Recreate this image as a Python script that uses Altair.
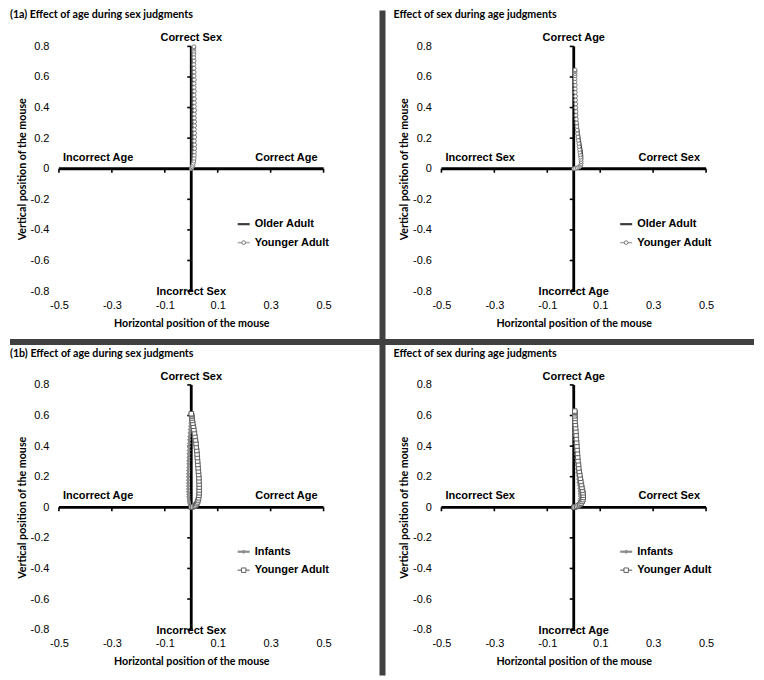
import altair as alt
import pandas as pd

# ---------------- data ----------------
X_TICKS = [-0.5, -0.3, -0.1, 0.1, 0.3, 0.5]
Y_TICKS = [-0.8, -0.6, -0.4, -0.2, 0.0, 0.2, 0.4, 0.6, 0.8]
X_TITLE = "Horizontal position of the mouse"
Y_TITLE = "Vertical position of the mouse"

PANEL_TITLES = [
    "(1a) Effect of age during sex judgments",
    "Effect of sex during age judgments",
    "(1b) Effect of age during sex judgments",
    "Effect of sex during age judgments",
]
# quadrant labels: top, bottom, left, right
QUAD_SEX_TASK = ["Correct Sex", "Incorrect Sex", "Incorrect Age", "Correct Age"]
QUAD_AGE_TASK = ["Correct Age", "Incorrect Age", "Incorrect Sex", "Correct Sex"]

SERIES_ADULT = ["Older Adult", "Younger Adult"]
SERIES_INFANT = ["Infants", "Younger Adult"]

# (x, y) mouse trajectories
p1_older = [(0.000, 0.000), (0.001, 0.010), (0.002, 0.030), (0.003, 0.060), (0.003, 0.100),
            (0.004, 0.140), (0.004, 0.180), (0.004, 0.220), (0.004, 0.260), (0.004, 0.300),
            (0.004, 0.340), (0.004, 0.380), (0.004, 0.420), (0.004, 0.460), (0.004, 0.500),
            (0.004, 0.540), (0.004, 0.580), (0.003, 0.620), (0.003, 0.660), (0.003, 0.700),
            (0.003, 0.740), (0.003, 0.770), (0.003, 0.790)]
p1_younger = [(0.000, 0.000), (0.002, 0.005), (0.004, 0.012), (0.006, 0.022), (0.008, 0.035),
              (0.010, 0.050), (0.011, 0.068), (0.012, 0.088), (0.012, 0.110), (0.013, 0.133),
              (0.013, 0.157), (0.012, 0.182), (0.013, 0.207), (0.013, 0.232), (0.012, 0.257),
              (0.013, 0.282), (0.013, 0.307), (0.012, 0.332), (0.012, 0.357), (0.013, 0.382),
              (0.012, 0.407), (0.012, 0.432), (0.012, 0.457), (0.011, 0.482), (0.012, 0.507),
              (0.011, 0.532), (0.011, 0.557), (0.012, 0.582), (0.011, 0.607), (0.011, 0.632),
              (0.011, 0.657), (0.010, 0.682), (0.011, 0.705), (0.010, 0.728), (0.010, 0.750),
              (0.010, 0.768), (0.010, 0.782), (0.010, 0.792), (0.010, 0.798)]
p2_older = [(0.000, 0.000), (0.005, 0.003), (0.011, 0.007), (0.017, 0.012), (0.022, 0.019),
            (0.026, 0.028), (0.029, 0.039), (0.031, 0.052), (0.032, 0.066), (0.032, 0.082),
            (0.031, 0.099), (0.030, 0.117), (0.028, 0.136), (0.026, 0.156), (0.024, 0.177),
            (0.022, 0.199), (0.020, 0.222), (0.018, 0.245), (0.016, 0.269), (0.014, 0.293),
            (0.012, 0.318), (0.011, 0.343), (0.010, 0.368), (0.009, 0.393), (0.008, 0.418),
            (0.007, 0.443), (0.006, 0.468), (0.006, 0.492), (0.005, 0.515), (0.005, 0.537),
            (0.005, 0.557), (0.004, 0.575), (0.004, 0.590), (0.004, 0.602), (0.004, 0.611),
            (0.004, 0.617)]
p2_younger = [(0.000, 0.000), (0.006, 0.003), (0.013, 0.006), (0.019, 0.010), (0.024, 0.016),
              (0.027, 0.024), (0.028, 0.034), (0.028, 0.046), (0.027, 0.060), (0.026, 0.075),
              (0.025, 0.091), (0.023, 0.108), (0.022, 0.126), (0.020, 0.145), (0.019, 0.165),
              (0.017, 0.186), (0.016, 0.208), (0.014, 0.230), (0.013, 0.253), (0.012, 0.276),
              (0.011, 0.300), (0.010, 0.324), (0.009, 0.349), (0.009, 0.374), (0.008, 0.399),
              (0.008, 0.424), (0.007, 0.449), (0.007, 0.474), (0.006, 0.499), (0.006, 0.523),
              (0.006, 0.546), (0.005, 0.568), (0.005, 0.589), (0.005, 0.607), (0.005, 0.622),
              (0.005, 0.634), (0.005, 0.642), (0.005, 0.647)]
p3_infants = [(0.000, 0.000), (-0.002, 0.004), (-0.004, 0.010), (-0.006, 0.018), (-0.008, 0.028),
              (-0.009, 0.040), (-0.010, 0.054), (-0.011, 0.069), (-0.011, 0.085), (-0.012, 0.102),
              (-0.012, 0.120), (-0.012, 0.139), (-0.012, 0.158), (-0.012, 0.178), (-0.012, 0.198),
              (-0.012, 0.219), (-0.012, 0.240), (-0.011, 0.261), (-0.011, 0.283), (-0.011, 0.305),
              (-0.010, 0.327), (-0.010, 0.349), (-0.009, 0.372), (-0.009, 0.395), (-0.008, 0.418),
              (-0.008, 0.441), (-0.007, 0.464), (-0.006, 0.487), (-0.005, 0.509), (-0.004, 0.530),
              (-0.003, 0.550), (-0.002, 0.568), (-0.001, 0.584), (-0.001, 0.597), (0.000, 0.606),
              (0.000, 0.612)]
p3_younger = [(0.000, 0.000), (0.006, 0.003), (0.012, 0.008), (0.017, 0.015), (0.021, 0.024),
              (0.024, 0.035), (0.026, 0.048), (0.028, 0.062), (0.029, 0.078), (0.030, 0.095),
              (0.030, 0.113), (0.030, 0.132), (0.030, 0.152), (0.029, 0.172), (0.029, 0.193),
              (0.028, 0.214), (0.027, 0.236), (0.026, 0.258), (0.025, 0.280), (0.024, 0.302),
              (0.023, 0.325), (0.022, 0.348), (0.021, 0.371), (0.019, 0.394), (0.018, 0.417),
              (0.016, 0.440), (0.014, 0.463), (0.012, 0.486), (0.010, 0.508), (0.008, 0.530),
              (0.006, 0.550), (0.004, 0.568), (0.003, 0.584), (0.002, 0.597), (0.001, 0.606),
              (0.000, 0.612)]
p4_infants = [(0.000, 0.000), (0.004, 0.003), (0.009, 0.008), (0.014, 0.014), (0.018, 0.022),
              (0.021, 0.032), (0.023, 0.044), (0.024, 0.058), (0.024, 0.073), (0.023, 0.089),
              (0.022, 0.106), (0.021, 0.124), (0.020, 0.143), (0.018, 0.163), (0.017, 0.184),
              (0.016, 0.206), (0.014, 0.228), (0.013, 0.251), (0.012, 0.274), (0.011, 0.298),
              (0.010, 0.322), (0.009, 0.346), (0.008, 0.370), (0.007, 0.394), (0.006, 0.418),
              (0.006, 0.442), (0.005, 0.466), (0.004, 0.490), (0.004, 0.513), (0.003, 0.535),
              (0.003, 0.555), (0.002, 0.573), (0.002, 0.588), (0.002, 0.600), (0.002, 0.609),
              (0.002, 0.615)]
p4_younger = [(0.000, 0.000), (0.005, 0.002), (0.011, 0.006), (0.017, 0.011), (0.023, 0.018),
              (0.028, 0.027), (0.032, 0.038), (0.035, 0.050), (0.036, 0.064), (0.036, 0.079),
              (0.035, 0.095), (0.033, 0.112), (0.031, 0.130), (0.029, 0.149), (0.027, 0.169),
              (0.025, 0.190), (0.023, 0.212), (0.021, 0.234), (0.019, 0.257), (0.018, 0.280),
              (0.016, 0.304), (0.015, 0.328), (0.014, 0.352), (0.013, 0.376), (0.012, 0.400),
              (0.011, 0.424), (0.010, 0.448), (0.009, 0.472), (0.008, 0.496), (0.007, 0.519),
              (0.006, 0.541), (0.005, 0.562), (0.005, 0.581), (0.004, 0.598), (0.004, 0.612),
              (0.004, 0.622), (0.004, 0.629)]

# ---------------- styling ----------------
W, H = 265, 245
LABEL_FONT = "Liberation Sans"
TITLE_FONT = "Lato"
SEP_COLOR = "#404040"

STYLE_OLDER = dict(line="#3c3c3c", width=2.2, shape=None)
STYLE_YOUNG_C = dict(line="#a8a8a8", width=1.2, shape="circle", size=14, fill="white", stroke="#7a7a7a")
STYLE_INFANT = dict(line="#8c8c8c", width=2.2, shape="diamond", size=12, fill="#8c8c8c", stroke="#8c8c8c")
STYLE_YOUNG_S = dict(line="#8a8a8a", width=1.2, shape="square", size=20, fill="white", stroke="#5e5e5e")

xs = alt.Scale(domain=[-0.5, 0.5], nice=False, zero=False)
ys = alt.Scale(domain=[-0.8, 0.8], nice=False, zero=False)
MINUS_FIX = "replace(datum.label, '\u2212', '-')"

x_axis = alt.Axis(values=X_TICKS, format=".1f", labelExpr=MINUS_FIX, title=X_TITLE,
                  domain=False, ticks=False, grid=False, labelFont=LABEL_FONT, labelFontSize=11,
                  labelColor="black", labelPadding=8, labelFlush=False, labelOverlap=False,
                  titleFont=TITLE_FONT, titleFontSize=10.7, titleFontWeight="bold",
                  titleColor="black", titlePadding=8)
y_axis = alt.Axis(values=Y_TICKS, format=".1~f", labelExpr=MINUS_FIX, title=Y_TITLE,
                  domain=False, ticks=False, grid=False, labelFont=LABEL_FONT, labelFontSize=11,
                  labelColor="black", labelPadding=10, labelFlush=False, labelOverlap=False,
                  titleFont=TITLE_FONT, titleFontSize=10.7, titleFontWeight="bold",
                  titleColor="black", titlePadding=3)


def X(field="x"):
    return alt.X(f"{field}:Q", scale=xs, axis=x_axis)


def Y(field="y"):
    return alt.Y(f"{field}:Q", scale=ys, axis=y_axis)


def series_layers(points, style):
    df = pd.DataFrame(points, columns=["x", "y"])
    df["i"] = range(len(df))
    base = alt.Chart(df)
    layers = [base.mark_line(color=style["line"], strokeWidth=style["width"]).encode(
        x=X(), y=Y(), order="i:Q")]
    if style["shape"]:
        layers.append(base.mark_point(shape=style["shape"], size=style["size"], filled=True,
                                      fill=style["fill"], stroke=style["stroke"],
                                      strokeWidth=1, opacity=1).encode(x=X(), y=Y()))
    return layers


def legend_layers(names, styles, x0, y0):
    layers = []
    for k, (name, st) in enumerate(zip(names, styles)):
        yy = y0 + 18.5 * k
        d = pd.DataFrame({"label": [name]})
        b = alt.Chart(d)
        layers.append(b.mark_rule(color=st["line"], strokeWidth=max(st["width"], 1.5)).encode(
            x=alt.value(x0), x2=alt.value(x0 + 12), y=alt.value(yy)))
        if st["shape"]:
            layers.append(b.mark_point(shape=st["shape"], size=st["size"], filled=True,
                                       fill=st["fill"], stroke=st["stroke"], strokeWidth=1,
                                       opacity=1).encode(x=alt.value(x0 + 6), y=alt.value(yy)))
        layers.append(b.mark_text(align="left", baseline="middle", font=LABEL_FONT,
                                  fontSize=11, fontWeight="bold", color="black").encode(
            x=alt.value(x0 + 17), y=alt.value(yy), text="label:N"))
    return layers


def panel(title, title_dx, quad, series_pts, names, styles, legend_y, separators=False):
    axes_df = pd.DataFrame({"x": [0.0, -0.5], "y": [-0.8, 0.0], "x2": [0.0, 0.5], "y2": [0.8, 0.0]})
    layers = [
        alt.Chart(axes_df).mark_rule(color="black", strokeWidth=2.8).encode(
            x=X(), y=Y(), x2="x2:Q", y2="y2:Q"),
        alt.Chart(pd.DataFrame({"y": Y_TICKS, "x": 0.0})).mark_rule(
            color="black", strokeWidth=1.6, xOffset=-4).encode(x=X(), x2="x:Q", y=Y()),
        alt.Chart(pd.DataFrame({"x": X_TICKS, "y": 0.0})).mark_rule(
            color="black", strokeWidth=1.6, y2Offset=4).encode(x=X(), y=Y(), y2="y:Q"),
    ]
    for pts, st in zip(series_pts, styles):
        layers += series_layers(pts, st)

    # quadrant labels: (x, y, align, dx, dy)
    spots = [(0.0, 0.8, "center", 0, -8), (0.0, -0.8, "center", 0, 1),
             (-0.5, 0.0, "left", 4, -11), (0.5, 0.0, "right", -6, -11)]
    for text, (qx, qy, al, dx, dy) in zip(quad, spots):
        d = pd.DataFrame({"x": [qx], "y": [qy], "t": [text]})
        layers.append(alt.Chart(d).mark_text(align=al, baseline="middle", dx=dx, dy=dy,
                                             font=LABEL_FONT, fontSize=11, fontWeight="bold",
                                             color="black").encode(x=X(), y=Y(), text="t:N"))

    layers += legend_layers(names, styles, 179, legend_y)

    td = pd.DataFrame({"t": [title]})
    layers.append(alt.Chart(td).mark_text(align="left", baseline="middle", font=TITLE_FONT,
                                          fontSize=10.7, fontWeight="bold", color="black").encode(
        x=alt.value(title_dx), y=alt.value(-31), text="t:N"))

    if separators:
        sd = pd.DataFrame({"k": [0]})
        layers.append(alt.Chart(sd).mark_rule(color=SEP_COLOR, strokeWidth=6, strokeCap="square").encode(
            x=alt.value(324), y=alt.value(-33), y2=alt.value(627)))
        layers.append(alt.Chart(sd).mark_rule(color=SEP_COLOR, strokeWidth=6, strokeCap="square").encode(
            x=alt.value(-46), x2=alt.value(693), y=alt.value(296)))

    return alt.layer(*layers).properties(width=W, height=H)


p1 = panel(PANEL_TITLES[0], -49, QUAD_SEX_TASK, [p1_older, p1_younger], SERIES_ADULT,
           [STYLE_OLDER, STYLE_YOUNG_C], 178, separators=True)
p2 = panel(PANEL_TITLES[1], -48, QUAD_AGE_TASK, [p2_older, p2_younger], SERIES_ADULT,
           [STYLE_OLDER, STYLE_YOUNG_C], 178)
p3 = panel(PANEL_TITLES[2], -49, QUAD_SEX_TASK, [p3_infants, p3_younger], SERIES_INFANT,
           [STYLE_INFANT, STYLE_YOUNG_S], 167)
p4 = panel(PANEL_TITLES[3], -48, QUAD_AGE_TASK, [p4_infants, p4_younger], SERIES_INFANT,
           [STYLE_INFANT, STYLE_YOUNG_S], 167)

chart = alt.concat(p1, p2, p3, p4, columns=2, spacing={"row": 94, "column": 118},
                   bounds="flush").properties(
    padding={"left": 0, "top": 0, "right": 0, "bottom": 0}, background="white").configure_view(
    stroke="transparent")

chart.save("out.html", embed_options={"renderer": "svg", "actions": False})
